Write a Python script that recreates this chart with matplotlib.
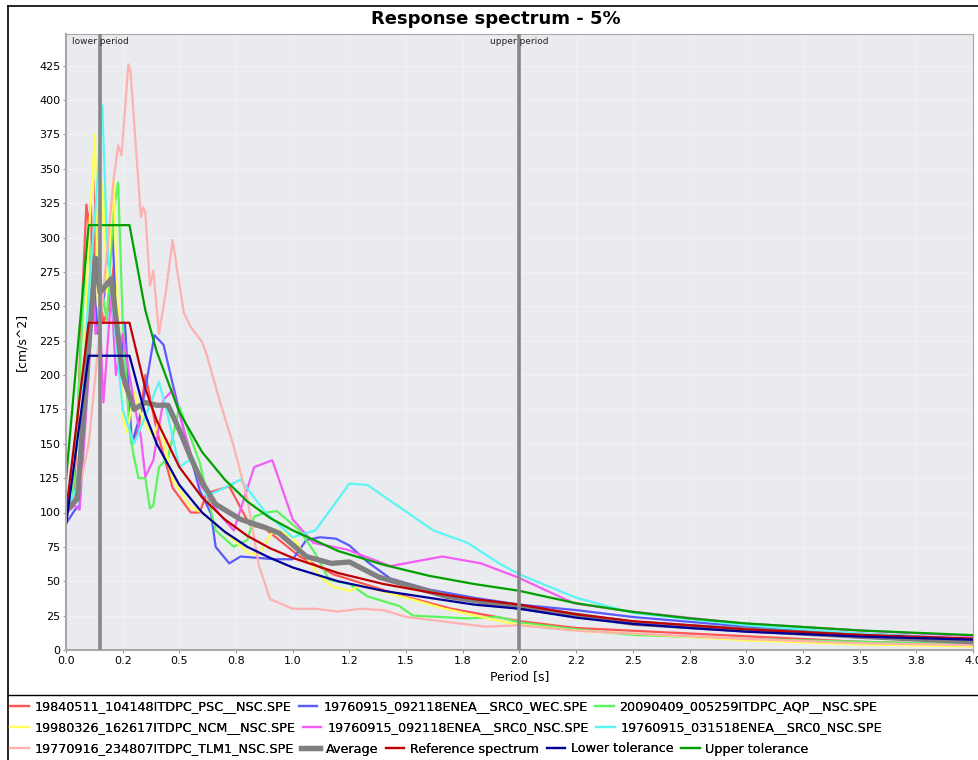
import numpy as np
import matplotlib.pyplot as plt
from matplotlib.lines import Line2D

# periods / spectral accelerations
psc_t = [0, 0.03, 0.05, 0.07, 0.09, 0.1, 0.11, 0.12, 0.13, 0.14, 0.165, 0.19, 0.21, 0.24, 0.27, 0.29,
         0.32, 0.35, 0.4, 0.47, 0.55, 0.59, 0.62, 0.72, 0.81, 0.88, 1.03, 1.18, 1.47, 1.7, 2.0, 2.25,
         2.5, 3.0, 3.5, 4.0]
psc_y = [100, 104, 160, 250, 324, 310, 324, 240, 341, 270, 238, 250, 279, 199, 187, 151,
         160, 200, 160, 118, 100, 100, 114, 119, 91, 88, 68, 55, 40, 30, 21, 16,
         14, 10, 6, 4]

wec_t = [0, 0.04, 0.06, 0.09, 0.12, 0.14, 0.17, 0.2, 0.22, 0.24, 0.26, 0.29, 0.33, 0.35, 0.39, 0.43,
         0.47, 0.53, 0.59, 0.64, 0.66, 0.72, 0.77, 0.92, 1.0, 1.06, 1.12, 1.19, 1.25, 1.33, 1.43, 1.6,
         1.8, 2.0, 2.25, 2.5, 3.0, 3.5, 4.0]
wec_y = [92, 102, 105, 200, 279, 230, 260, 320, 250, 200, 238, 150, 172, 190, 229, 222,
         194, 153, 116, 99, 75, 63, 68, 66, 66, 80, 82, 81, 76, 64, 52, 44,
         38, 33, 29, 24, 17, 12, 8]

aqp_t = [0, 0.03, 0.06, 0.084, 0.1, 0.12, 0.14, 0.16, 0.18, 0.21, 0.23, 0.25, 0.28, 0.3, 0.32, 0.35,
         0.37, 0.385, 0.41, 0.45, 0.5, 0.59, 0.66, 0.74, 0.8, 0.83, 0.88, 0.93, 1.03, 1.1, 1.16, 1.25,
         1.33, 1.47, 1.53, 1.77, 1.91, 2.0, 2.25, 2.5, 3.0, 3.5, 4.0]
aqp_y = [100, 110, 200, 279, 300, 250, 290, 260, 240, 320, 340, 240, 160, 140, 125, 125,
         103, 105, 133, 140, 177, 136, 87, 75, 80, 97, 100, 101, 87, 70, 51, 48,
         39, 32, 25, 23, 24, 20, 15, 11, 8, 6, 4]

ncm_t = [0, 0.05, 0.08, 0.1, 0.128, 0.14, 0.165, 0.18, 0.21, 0.23, 0.25, 0.27, 0.3, 0.34, 0.385, 0.41,
         0.47, 0.55, 0.6, 0.74, 0.81, 0.85, 0.92, 1.0, 1.12, 1.18, 1.25, 1.3, 1.5, 1.67, 1.97, 2.25,
         2.5, 3.0, 3.5, 4.0]
ncm_y = [100, 110, 200, 300, 375, 250, 340, 260, 342, 240, 170, 158, 188, 167, 155, 167,
         124, 104, 100, 80, 70, 70, 88, 82, 53, 46, 43, 47, 38, 30, 19, 14,
         12, 7, 4, 2.5]

nsc_t = [0, 0.04, 0.06, 0.1, 0.12, 0.13, 0.15, 0.165, 0.2, 0.22, 0.25, 0.3, 0.33, 0.35, 0.385, 0.43,
         0.47, 0.52, 0.59, 0.67, 0.74, 0.83, 0.91, 1.0, 1.09, 1.24, 1.43, 1.66, 1.83, 1.99, 2.24, 2.49,
         2.97, 3.46, 4.0]
nsc_y = [100, 105, 102, 200, 270, 230, 240, 180, 260, 200, 230, 180, 155, 126, 138, 182,
         189, 160, 121, 100, 87, 133, 138, 95, 78, 73, 61, 68, 63, 53, 34, 28,
         19.5, 14.6, 10]

enea_t = [0, 0.05, 0.1, 0.13, 0.16, 0.18, 0.2, 0.25, 0.3, 0.35, 0.41, 0.45, 0.5, 0.56, 0.62, 0.7,
          0.77, 0.88, 1.0, 1.1, 1.25, 1.33, 1.47, 1.62, 1.77, 1.91, 2.0, 2.25, 2.5, 3.0, 3.5, 4.0]
enea_y = [100, 120, 260, 320, 396, 300, 260, 175, 150, 170, 195, 170, 133, 140, 112, 118,
          124, 100, 82, 87, 121, 120, 104, 87, 78, 63, 55, 38, 27, 18, 12, 7.5]

tlm_t = [0, 0.05, 0.1, 0.13, 0.17, 0.21, 0.23, 0.245, 0.275, 0.285, 0.33, 0.34, 0.35, 0.37, 0.385,
         0.41, 0.44, 0.47, 0.52, 0.55, 0.6, 0.62, 0.68, 0.74, 0.8, 0.85, 0.9, 1.0, 1.1, 1.2, 1.3,
         1.4, 1.5, 1.7, 1.85, 2.0, 2.25, 2.5, 3.0, 3.5, 4.0]
tlm_y = [105, 110, 150, 200, 270, 342, 367, 360, 426, 420, 315, 322, 318, 265, 276,
         230, 260, 298, 245, 235, 224, 215, 180, 148, 110, 62, 37, 30, 30, 28, 30,
         29, 24, 20, 17, 18, 14, 12, 8, 5, 3.5]

avg_t = [0, 0.05, 0.1, 0.13, 0.15, 0.2, 0.25, 0.3, 0.35, 0.4, 0.45, 0.5, 0.55, 0.6, 0.66, 0.77,
         0.88, 0.94, 1.06, 1.17, 1.25, 1.38, 1.68, 2.0, 2.5, 3.0, 3.5, 4.0]
avg_y = [101, 110, 220, 285, 260, 270, 200, 175, 180, 178, 178, 160, 140, 122, 106, 95,
         89, 85, 68, 63, 64, 53, 39, 31, 19.5, 14.6, 10, 6]

ref_t = [0, 0.1, 0.28, 0.35, 0.4, 0.5, 0.6, 0.7, 0.8, 0.9, 1.0, 1.2, 1.4, 1.6, 1.8, 2.0,
         2.25, 2.5, 2.75, 3.0, 3.5, 4.0]
ref_y = [100, 238, 238, 190, 167, 133, 111, 95, 83, 74, 67, 56, 48, 42, 37, 33,
         26, 21, 18, 15, 11, 8.3]
low_y = [91, 214, 214, 171, 150, 120, 100, 86, 75, 67, 60, 50, 43, 38, 33, 30,
         23.5, 19, 16, 13.3, 9.8, 7.5]
upp_y = [124, 309, 309, 247, 217, 173, 144, 124, 108, 96, 87, 72, 62, 54, 48, 43,
         34, 27.7, 23, 19.3, 14.2, 10.8]

lower_period = 0.15
upper_period = 2.0

records = [
    ("19840511_104148ITDPC_PSC__NSC.SPE", psc_t, psc_y, "#FF5555"),
    ("19760915_092118ENEA__SRC0_WEC.SPE", wec_t, wec_y, "#5A5AFF"),
    ("20090409_005259ITDPC_AQP__NSC.SPE", aqp_t, aqp_y, "#5CF55C"),
    ("19980326_162617ITDPC_NCM__NSC.SPE", ncm_t, ncm_y, "#FFFF55"),
    ("19760915_092118ENEA__SRC0_NSC.SPE", nsc_t, nsc_y, "#F55CF5"),
    ("19760915_031518ENEA__SRC0_NSC.SPE", enea_t, enea_y, "#5CF5F5"),
    ("19770916_234807ITDPC_TLM1_NSC.SPE", tlm_t, tlm_y, "#FFB0B0"),
]

fig = plt.figure(figsize=(9.79, 7.6), dpi=100)
ax = fig.add_axes([66 / 979, 1 - 650 / 760, (973 - 66) / 979, (650 - 34) / 760])
ax.set_facecolor("#E9EBEE")

handles = []
for name, t, y, c in records:
    h, = ax.plot(t, y, color=c, lw=1.6, label=name)
    handles.append(h)
h, = ax.plot(avg_t, avg_y, color="#808080", lw=3.8, label="Average")
handles.append(h)
h, = ax.plot(ref_t, ref_y, color="#C00000", lw=1.6, label="Reference spectrum")
handles.append(h)
h, = ax.plot(ref_t, low_y, color="#000099", lw=1.6, label="Lower tolerance")
handles.append(h)
h, = ax.plot(ref_t, upp_y, color="#00A000", lw=1.6, label="Upper tolerance")
handles.append(h)

# period markers
for p, lab in [(lower_period, "lower period"), (upper_period, "upper period")]:
    ax.axvline(p, color="#888888", lw=2.6, zorder=5)
    ax.text(p, 446, lab, ha="center", va="top", fontsize=6.5, color="#222222", zorder=6)

ax.set_xlim(0, 4.0)
ax.set_ylim(0, 448)
ax.set_xticks(np.arange(0, 4.01, 0.25))
ax.set_xticklabels(["%.1f" % v for v in np.arange(0, 4.01, 0.25)])
ax.set_yticks(np.arange(0, 426, 25))
ax.tick_params(labelsize=8, length=2, color="#999999", pad=2)
ax.grid(True, color="white", lw=0.8, alpha=0.35)
ax.set_axisbelow(True)
for s in ax.spines.values():
    s.set_color("#AAAAAA")
for s in ["left", "bottom"]:
    ax.spines[s].set_linewidth(1.5)
ax.set_xlabel("Period [s]", fontsize=9, labelpad=3)
ax.set_ylabel("[cm/s^2]", fontsize=9, labelpad=8)

fig.text(0.506, 0.975, "Response spectrum - 5%", ha="center", va="center",
         fontsize=13, fontweight="bold")

# frame like the original panel
fig.add_artist(Line2D([8 / 979, 8 / 979], [0, 1 - 6 / 760], color="black", lw=1.2))
fig.add_artist(Line2D([8 / 979, 1], [1 - 6 / 760, 1 - 6 / 760], color="black", lw=1.2))
fig.add_artist(Line2D([8 / 979, 1], [1 - 695 / 760, 1 - 695 / 760], color="black", lw=1.0))

rows = [handles[0:3], handles[3:6], handles[6:]]
row_y = [707, 728, 749]
for hs, ry in zip(rows, row_y):
    leg = fig.legend(handles=hs, loc="center left", bbox_to_anchor=(10 / 979, 1 - ry / 760),
                     ncol=len(hs), frameon=False, fontsize=9.2, handlelength=1.45,
                     handletextpad=0.45, columnspacing=0.6, borderpad=0, borderaxespad=0)
    fig.add_artist(leg)

fig.savefig("out.png", dpi=100)
